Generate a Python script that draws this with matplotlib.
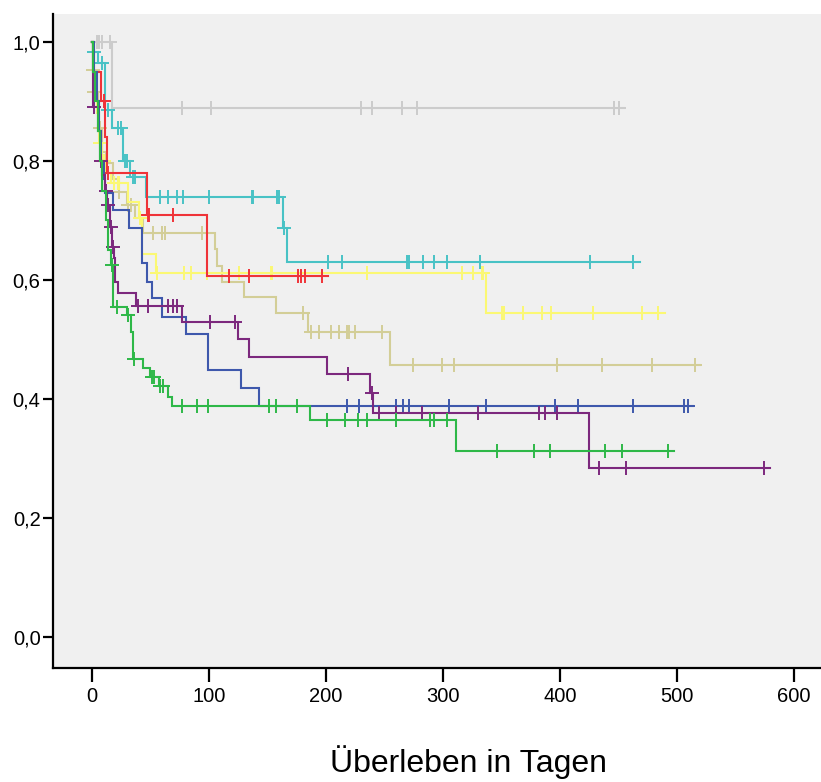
import numpy as np
import matplotlib
matplotlib.use('Agg')
import matplotlib.pyplot as plt

plt.rcParams['font.family'] = ['Liberation Sans', 'DejaVu Sans']

# ---------------- data (Kaplan-Meier step curves) ----------------
gray_times = [0, 17]
gray_surv = [1.0, 0.889]
gray_cens = [4, 6, 9, 15, 77, 102, 230, 239, 265, 278, 446, 450]
gray_end = 455

cyan_times = [0, 1, 5, 11, 17, 26.5, 32.5, 46, 163, 167]
cyan_surv = [1.0, 0.983, 0.965, 0.886, 0.855, 0.80, 0.773, 0.739, 0.687, 0.630]
cyan_cens = [2, 9, 14, 22, 25, 28, 30, 35, 37, 58, 65, 73, 78, 100, 137, 138, 158, 160,
             164, 202, 214, 269, 271, 283, 292, 303, 332, 426, 462]
cyan_end = 468

beige_times = [0, 0.5, 1.5, 5, 6, 9, 12, 18, 23, 30, 37, 44, 105, 107, 111, 130, 157, 185, 255]
beige_surv = [1.0, 0.953, 0.916, 0.88, 0.855, 0.815, 0.797, 0.77, 0.748, 0.726, 0.704, 0.679,
              0.652, 0.624, 0.597, 0.571, 0.545, 0.513, 0.457]
beige_cens = [1, 2, 7, 23.5, 31, 33, 52, 60, 62, 94, 180, 187, 194, 204, 211, 218, 220, 225,
              248, 274, 299, 309, 397, 436, 479, 515]
beige_end = 520

yellow_times = [0, 2, 4, 6, 9, 12, 16, 31, 40, 43, 55, 337]
yellow_surv = [1.0, 0.94, 0.88, 0.83, 0.80, 0.78, 0.763, 0.731, 0.704, 0.644, 0.612, 0.545]
yellow_cens = [7, 10, 19, 22, 23, 41, 56, 79, 85, 98, 126, 153, 154, 235, 316, 326, 333, 334,
               350, 352, 368, 385, 392, 428, 470, 484]
yellow_end = 490

red_times = [0, 1, 8, 11, 13, 47, 98]
red_surv = [1.0, 0.95, 0.90, 0.84, 0.78, 0.709, 0.607]
red_cens = [10, 14, 48, 49, 69, 117, 134, 176, 179, 182, 197]
red_end = 202

blue_times = [0, 2, 4, 6, 8, 10, 11, 18, 32, 43, 47, 51, 60, 80, 99, 127, 143]
blue_surv = [1.0, 0.95, 0.90, 0.85, 0.80, 0.77, 0.746, 0.718, 0.687, 0.629, 0.597, 0.570,
             0.538, 0.509, 0.449, 0.418, 0.388]
blue_cens = [218, 228, 260, 266, 271, 305, 337, 396, 415, 462, 506, 509]
blue_end = 514

purple_times = [0, 1, 5, 7, 9, 11, 13, 15, 17, 19, 20, 22, 38, 77, 125, 134, 201, 238, 240, 425]
purple_surv = [1.0, 0.89, 0.85, 0.80, 0.776, 0.75, 0.726, 0.689, 0.655, 0.637, 0.597, 0.578,
               0.556, 0.529, 0.501, 0.471, 0.442, 0.41, 0.376, 0.284]
purple_cens = [2, 8, 12, 14, 16, 18, 39, 48, 65, 69, 73, 101, 122, 219, 239, 245, 260, 282,
               330, 382, 387, 397, 433, 456, 574]
purple_end = 579

green_times = [0, 1, 3, 5, 7, 9, 12, 14, 16, 18, 30, 33, 35, 44, 50, 57, 65, 68, 186, 311]
green_surv = [1.0, 0.95, 0.90, 0.85, 0.80, 0.75, 0.70, 0.65, 0.625, 0.555, 0.541, 0.513,
              0.467, 0.452, 0.437, 0.422, 0.403, 0.388, 0.365, 0.313]
green_cens = [17, 21, 31, 36, 51, 53, 58, 61, 77, 90, 99, 151, 157, 175, 201, 216, 227, 235,
              260, 289, 292, 303, 346, 378, 391, 438, 453, 492]
green_end = 497

x_ticks = [0, 100, 200, 300, 400, 500, 600]
y_ticks = [0.0, 0.2, 0.4, 0.6, 0.8, 1.0]
y_ticklabels = ['0,0', '0,2', '0,4', '0,6', '0,8', '1,0']
x_label = 'Überleben in Tagen'

groups = [
    (gray_times, gray_surv, gray_cens, gray_end, '#CCCCCC'),
    (cyan_times, cyan_surv, cyan_cens, cyan_end, '#48C2C5'),
    (beige_times, beige_surv, beige_cens, beige_end, '#D3CE97'),
    (yellow_times, yellow_surv, yellow_cens, yellow_end, '#FBF873'),
    (red_times, red_surv, red_cens, red_end, '#EF3338'),
    (blue_times, blue_surv, blue_cens, blue_end, '#3E58AC'),
    (purple_times, purple_surv, purple_cens, purple_end, '#7C287D'),
    (green_times, green_surv, green_cens, green_end, '#2EB848'),
]

# ---------------- figure ----------------
W, H = 821, 782
fig = plt.figure(figsize=(W / 100, H / 100), dpi=100)
ax = fig.add_axes([53 / W, 1 - 668 / H, 1 - 53 / W, (668 - 14) / H])
ax.set_facecolor('#F0F0F0')

for times, surv, cens, end, color in groups:
    t = np.append(np.asarray(times, float), end)
    s = np.append(np.asarray(surv, float), surv[-1])
    ax.step(t, s, where='post', color=color, lw=1.5, solid_joinstyle='miter')
    idx = np.searchsorted(np.asarray(times, float), np.asarray(cens, float), side='right') - 1
    ax.plot(cens, np.asarray(surv)[idx], ls='none', marker='+', ms=10.5, mew=1.4, color=color)

ax.set_xlim(-33.3, 623)
ax.set_ylim(-0.052, 1.047)
ax.set_xticks(x_ticks)
ax.set_xticklabels([str(v) for v in x_ticks], fontsize=14.5)
ax.set_yticks(y_ticks)
ax.set_yticklabels(y_ticklabels, fontsize=14.5)
for sp in ['top', 'right']:
    ax.spines[sp].set_visible(False)
for sp in ['left', 'bottom']:
    ax.spines[sp].set_linewidth(1.6)
    ax.spines[sp].set_color('black')
ax.tick_params(axis='x', direction='out', length=10, width=1.6, pad=4)
ax.tick_params(axis='y', direction='out', length=7, width=1.6, pad=2)

fig.text(468 / W, 1 - 762 / H, x_label, ha='center', va='center', fontsize=23)

fig.savefig('out.png', dpi=100)
